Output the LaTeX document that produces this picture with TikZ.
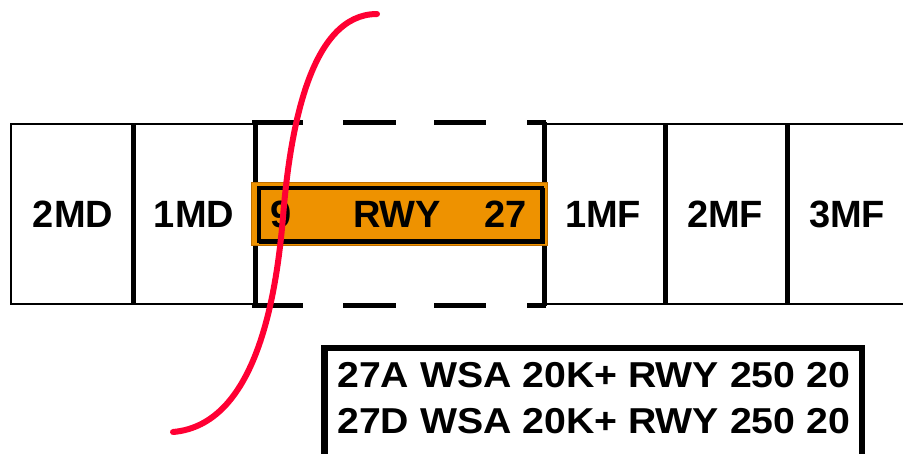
\documentclass[tikz,border=0pt]{standalone}
\usepackage{fontspec}
\setmainfont{Liberation Sans}
\definecolor{rwyorange}{RGB}{238,146,0}
\definecolor{rwyedge}{RGB}{190,110,0}
\definecolor{curvered}{RGB}{255,0,51}
\tikzset{
  thinln/.style={line width=2.5pt, black},
  thickln/.style={line width=5pt, black},
  dashln/.style={line width=5pt, black},
  lbl/.style={font=\fontsize{38}{40}\selectfont\bfseries, inner sep=0pt},
  msglbl/.style={font=\fontsize{36}{40}\selectfont\bfseries, inner sep=0pt, anchor=base west},
}
\begin{document}
\begin{tikzpicture}[x=1pt, y=-1pt]
\useasboundingbox (0,0) rectangle (903,453);
% outer strip, left part
\draw[thinln] (255,124) -- (11,124) -- (11,304) -- (255,304);
\draw[thickln] (133,124) -- (133,304);
% right part
\draw[thinln] (544,124) -- (910,124);
\draw[thinln] (544,304) -- (910,304);
\draw[thickln] (665,124) -- (665,304);
\draw[thickln] (787,124) -- (787,304);
% middle section verticals
\draw[thickln] (255,122) -- (255,306);
\draw[thickln] (544,122) -- (544,306);
% dashed top/bottom
\foreach \y in {122,305} {
  \draw[dashln] (252,\y) -- (303,\y);
  \draw[dashln] (343,\y) -- (396,\y);
  \draw[dashln] (434,\y) -- (486,\y);
  \draw[dashln] (527,\y) -- (546,\y);
}
% runway box
\draw[rwyedge, fill=rwyorange, line width=1pt] (251,182) rectangle (547,245);
\draw[black, line width=3.5pt] (259,188) rectangle (542,241);
\draw[black, line width=2pt] (259,242.5) -- (543.5,242.5) -- (543.5,188);
% cell labels
\node[lbl] (md2) at (73,214) {2MD};
\node[lbl] (md1) at (194,214) {1MD};
\node[lbl] (mf1) at (603,214) {1MF};
\node[lbl] (mf2) at (725,214) {2MF};
\node[lbl] (mf3) at (847,214) {3MF};
\node[lbl] (nine) at (281,214) {9};
\node[lbl] (rwy) at (397,214) {RWY};
\node[lbl] (twentyseven) at (506,214) {27};
% message box
\draw[black, fill=white, line width=6.5pt] (324.5,348) rectangle (862,470);
\node[msglbl] (msga) at (337,387) {\scalebox{1.09}[1]{27A WSA 20K+ RWY 250 20}};
\node[msglbl] (msgd) at (337,433) {\scalebox{1.09}[1]{27D WSA 20K+ RWY 250 20}};
% red curve
\draw[curvered, line width=6pt, line cap=round]
  (377,14) .. controls (310,14) and (290,130) .. (283,217)
  .. controls (276,300) and (255,425) .. (173,432);
\end{tikzpicture}
\end{document}
